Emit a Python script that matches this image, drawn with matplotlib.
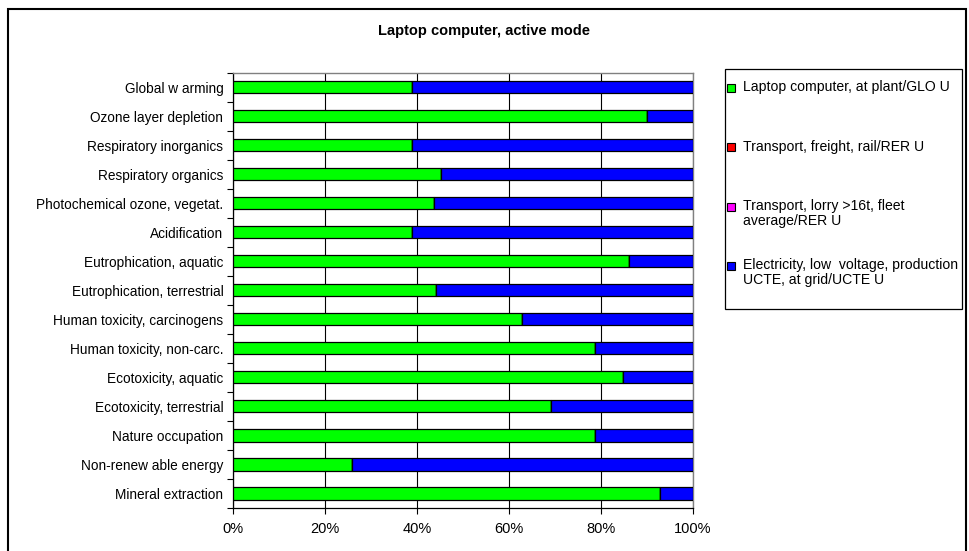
import numpy as np
import matplotlib.pyplot as plt
from matplotlib.patches import Rectangle

plt.rcParams['font.family'] = ['Liberation Sans', 'DejaVu Sans']

# категории воздействия (сверху вниз)
categories = [
    'Global w arming', 'Ozone layer depletion', 'Respiratory inorganics',
    'Respiratory organics', 'Photochemical ozone, vegetat.', 'Acidification',
    'Eutrophication, aquatic', 'Eutrophication, terrestrial',
    'Human toxicity, carcinogens', 'Human toxicity, non-carc.',
    'Ecotoxicity, aquatic', 'Ecotoxicity, terrestrial', 'Nature occupation',
    'Non-renew able energy', 'Mineral extraction',
]

# доли в процентах
laptop = [39.0, 90.1, 39.0, 45.3, 43.7, 39.0, 86.1, 44.2, 62.8, 78.8, 84.7, 69.1, 78.8, 25.8, 92.8]
rail = [0.0] * 15
lorry = [0.0] * 15
electricity = [100 - v for v in laptop]

series_labels = [
    'Laptop computer, at plant/GLO U',
    'Transport, freight, rail/RER U',
    'Transport, lorry >16t, fleet\naverage/RER U',
    'Electricity, low  voltage, production\nUCTE, at grid/UCTE U',
]
series_colors = ['#00FF00', '#FF0000', '#FF00FF', '#0000FF']
xticks = [0, 20, 40, 60, 80, 100]

W, H = 969, 551
fig = plt.figure(figsize=(W / 100, H / 100), dpi=100)
ax = fig.add_axes([233 / W, 1 - 508 / H, 460 / W, 435.5 / H])

y = np.arange(len(categories))[::-1]
left = np.zeros(len(categories))
for vals, lab, col in zip([laptop, rail, lorry, electricity], series_labels, series_colors):
    vals = np.array(vals)
    ax.barh(y, vals, left=left, height=0.42, color=col, edgecolor='black',
            linewidth=0.9, label=lab, zorder=3)
    left = left + vals

ax.set_xlim(0, 100)
ax.set_ylim(-0.5, len(categories) - 0.5)
ax.set_xticks(xticks)
ax.set_xticklabels([f'{t}%' for t in xticks], fontsize=10.5)
ax.set_yticks(y)
ax.set_yticklabels(categories, fontsize=9.8)
ax.set_yticks(np.arange(len(categories) + 1) - 0.5, minor=True)
ax.tick_params(axis='y', which='major', length=0, pad=7)
ax.tick_params(axis='y', which='minor', length=4, width=0.8, direction='out')
ax.tick_params(axis='x', length=4, width=0.8, direction='out', pad=6)
ax.xaxis.grid(True, color='black', linewidth=0.8, zorder=0)
ax.set_axisbelow(True)
for s in ['top', 'right']:
    ax.spines[s].set_color('#808080')
    ax.spines[s].set_linewidth(1.0)
for s in ['left', 'bottom']:
    ax.spines[s].set_linewidth(0.9)

fig.text(484 / W, 1 - 31 / H, 'Laptop computer, active mode', ha='center', va='center',
         fontsize=10.5, fontweight='bold')

# легенда вручную: рамка, квадратики и подписи
fig.patches.append(Rectangle((725 / W, 1 - 309 / H), 237 / W, 240 / H,
                             transform=fig.transFigure, fill=False, edgecolor='black',
                             linewidth=0.9))
for i, (lab, col) in enumerate(zip(series_labels, series_colors)):
    ly = 88 + i * 59.3
    fig.patches.append(Rectangle((727 / W, 1 - (ly + 4) / H), 8 / W, 8 / H,
                                 transform=fig.transFigure, facecolor=col,
                                 edgecolor='black', linewidth=0.8))
    fig.text(743 / W, 1 - (ly - 7.5) / H, lab, ha='left', va='top', fontsize=10.1,
             linespacing=1.05)

# внешняя рамка диаграммы
fig.patches.append(Rectangle((8 / W, -0.02), 958 / W, 1.02 - 9 / H,
                             transform=fig.transFigure, fill=False, edgecolor='black',
                             linewidth=1.5))

fig.savefig('out.png', dpi=100)
